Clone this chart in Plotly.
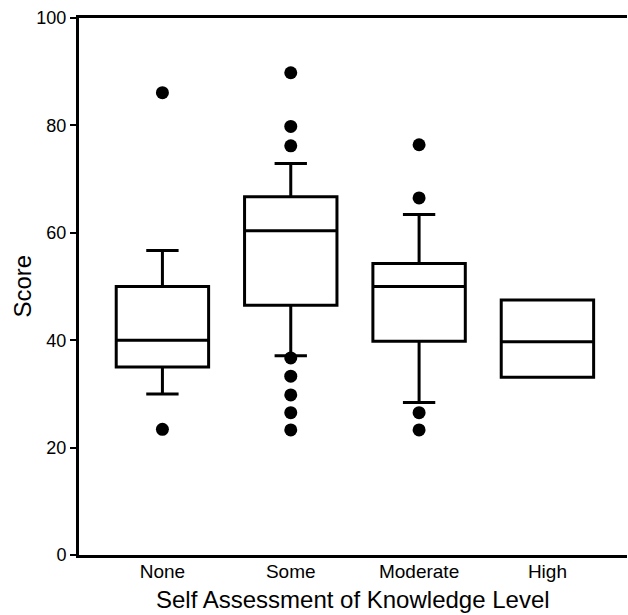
import plotly.graph_objects as go

categories = ["None", "Some", "Moderate", "High"]
q1 = [35.0, 46.5, 39.8, 33.1]
median = [40.0, 60.4, 50.0, 39.7]
q3 = [50.0, 66.7, 54.3, 47.5]
lower_whisker = [30.0, 37.1, 28.4, 33.1]
upper_whisker = [56.7, 72.9, 63.4, 47.5]

outlier_cats = ["None", "None",
                "Some", "Some", "Some", "Some", "Some", "Some", "Some", "Some",
                "Moderate", "Moderate", "Moderate", "Moderate"]
outlier_vals = [86.1, 23.4,
                89.8, 79.8, 76.2, 36.7, 33.3, 29.8, 26.5, 23.3,
                76.4, 66.5, 26.5, 23.3]

y_ticks = [0, 20, 40, 60, 80, 100]

fig = go.Figure()
fig.add_trace(go.Box(
    x=categories, q1=q1, median=median, q3=q3,
    lowerfence=lower_whisker, upperfence=upper_whisker,
    boxpoints=False, width=0.72, whiskerwidth=0.35,
    fillcolor="rgba(0,0,0,0)", line=dict(color="black", width=3),
    showlegend=False, hoverinfo="skip",
))
fig.add_trace(go.Scatter(
    x=outlier_cats, y=outlier_vals, mode="markers",
    marker=dict(color="black", size=13), showlegend=False,
))

fig.update_layout(
    width=628, height=615,
    margin=dict(l=79, r=1, t=18, b=60),
    paper_bgcolor="white", plot_bgcolor="white",
    font=dict(family="Liberation Sans, Arial, sans-serif", color="black", size=18),
    annotations=[
        dict(text="Self Assessment of Knowledge Level", xref="paper", yref="paper",
             x=0.5, y=0, yshift=-59, xanchor="center", yanchor="bottom",
             showarrow=False, font=dict(size=24), borderpad=0),
        dict(text="Score", xref="paper", yref="paper", x=0, y=0.5,
             xshift=-57, xanchor="center", yanchor="middle", textangle=-90,
             showarrow=False, font=dict(size=24)),
    ],
)
fig.update_xaxes(
    categoryorder="array", categoryarray=categories,
    range=[-0.65, 3.62], showline=True, linecolor="black", linewidth=3,
    mirror=True, ticks="", showgrid=False, zeroline=False, automargin=False,
    tickfont=dict(size=19), ticklabelstandoff=-3,
)
fig.update_yaxes(
    range=[0, 100], tickvals=y_ticks, showline=True, linecolor="black", linewidth=3,
    ticks="outside", ticklen=6, tickwidth=2, tickcolor="black", automargin=False,
    showgrid=False, zeroline=False, tickfont=dict(size=18),
)

fig.write_html("out.html", config={"displayModeBar": False},
               post_script="document.body.style.margin='0';")
